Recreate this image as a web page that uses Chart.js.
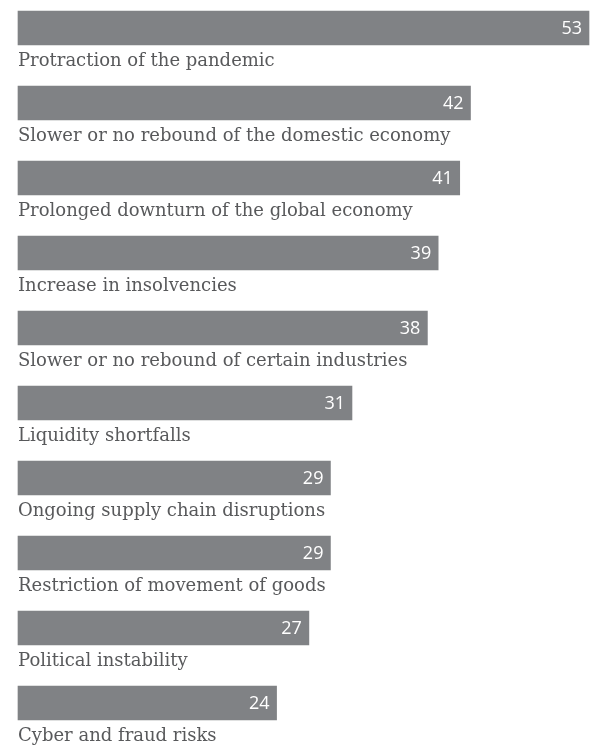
<!DOCTYPE html>
<html>
<head>
<meta charset="utf-8">
<script src="https://cdn.jsdelivr.net/npm/chart.js@4/dist/chart.umd.min.js"></script>
<style>
  html, body { margin: 0; padding: 0; background: #fff; }
  #wrap { width: 597px; height: 754px; position: relative; }
</style>
</head>
<body>
<div id="wrap"><canvas id="chart"></canvas></div>
<script>
// categorias y valores (%)
var categories = [
    'Protraction of the pandemic',
    'Slower or no rebound of the domestic economy',
    'Prolonged downturn of the global economy',
    'Increase in insolvencies',
    'Slower or no rebound of certain industries',
    'Liquidity shortfalls',
    'Ongoing supply chain disruptions',
    'Restriction of movement of goods',
    'Political instability',
    'Cyber and fraud risks'
];
var values = [53, 42, 41, 39, 38, 31, 29, 29, 27, 24];

// etiquetas: valor dentro de la barra y categoria debajo
var labelsPlugin = {
    id: 'labelsPlugin',
    afterDatasetsDraw: function (chart) {
        var ctx = chart.ctx;
        var meta = chart.getDatasetMeta(0);
        ctx.save();
        meta.data.forEach(function (bar, i) {
            ctx.fillStyle = '#ffffff';
            ctx.font = '18px "Open Sans", sans-serif';
            ctx.textAlign = 'right';
            ctx.textBaseline = 'middle';
            ctx.fillText(values[i], bar.x - 7, bar.y + 1);

            ctx.fillStyle = '#58595b';
            ctx.font = '18px "DejaVu Serif", serif';
            ctx.textAlign = 'left';
            ctx.textBaseline = 'alphabetic';
            ctx.fillText(categories[i], chart.chartArea.left, bar.y + bar.height / 2 + 21);
        });
        ctx.restore();
    }
};

var chart = new Chart(document.getElementById('chart'), {
    type: 'bar',
    data: {
        labels: categories,
        datasets: [{
            data: values,
            backgroundColor: '#808285',
            barThickness: 34,
            clip: false
        }]
    },
    options: {
        indexAxis: 'y',
        responsive: true,
        maintainAspectRatio: false,
        animation: false,
        layout: { padding: { left: 18, right: 8, top: 28, bottom: 51 } },
        scales: {
            x: { display: false, min: 0, max: 53 },
            y: { display: false, offset: false }
        },
        plugins: {
            legend: { display: false },
            tooltip: { enabled: false }
        }
    },
    plugins: [labelsPlugin]
});
</script>
</body>
</html>
